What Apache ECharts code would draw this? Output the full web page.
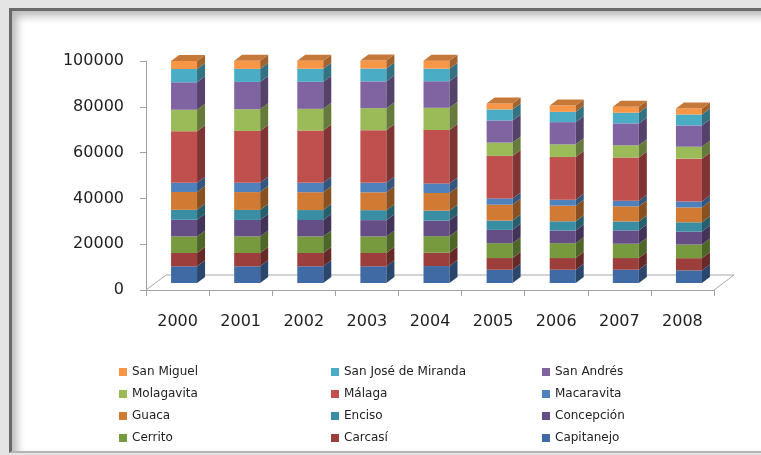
<!DOCTYPE html>
<html>
<head>
<meta charset="utf-8">
<script src="https://cdn.jsdelivr.net/npm/echarts@6/dist/echarts.min.js"></script>
<style>
  html, body { margin: 0; padding: 0; width: 761px; height: 455px; overflow: hidden; background: #e4e4e4; }
  .frame {
    position: absolute; left: 9px; top: 8px; width: 780px; height: 440px;
    background: #fff;
    border-left: 3px solid #6a6a6a; border-top: 3px solid #6a6a6a; border-bottom: 2px solid #b5b5b5;
    box-shadow: inset 5px 5px 9px rgba(0, 0, 0, 0.28);
  }
  #main { position: absolute; left: 0; top: 0; width: 761px; height: 455px; }
</style>
</head>
<body>
<div class="frame"></div>
<div id="main"></div>
<script>
// años
const years = ['2000', '2001', '2002', '2003', '2004', '2005', '2006', '2007', '2008'];

// series de abajo hacia arriba
const names = ['Capitanejo', 'Carcasí', 'Cerrito', 'Concepción', 'Enciso', 'Guaca', 'Macaravita',
  'Málaga', 'Molagavita', 'San Andrés', 'San José de Miranda', 'San Miguel'];

const capitanejo = [7300, 7300, 7300, 7300, 7400, 5800, 5800, 5800, 5500];
const carcasi = [5800, 5800, 5800, 5800, 5800, 5100, 5100, 5100, 5350];
const cerrito = [7250, 7250, 7250, 7250, 7250, 6500, 6500, 6250, 5950];
const concepcion = [7250, 7200, 7150, 7100, 6800, 5800, 5500, 5800, 5650];
const enciso = [4350, 4350, 4350, 4350, 4350, 4050, 4050, 3900, 4050];
const guaca = [7800, 7800, 7800, 7800, 7700, 6950, 6800, 6650, 6500];
const macaravita = [4050, 4100, 4100, 4150, 4200, 2750, 2600, 2450, 2600];
const malaga = [22450, 22600, 22800, 23000, 23300, 18550, 18700, 18850, 18700];
const molagavita = [9400, 9500, 9500, 9600, 9700, 5800, 5500, 5350, 5200];
const sanAndres = [12000, 11900, 11800, 11700, 11600, 9700, 9700, 9550, 9300];
const sanJose = [5800, 5700, 5700, 5600, 5500, 4800, 4500, 4650, 4800];
const sanMiguel = [3500, 3500, 3500, 3500, 3500, 2600, 2750, 2600, 2600];

const values = [capitanejo, carcasi, cerrito, concepcion, enciso, guaca, macaravita,
  malaga, molagavita, sanAndres, sanJose, sanMiguel];

const colors = ['#3f6aa3', '#9c3e3b', '#789a3e', '#654d86', '#3a8ea4', '#d07a33', '#4f81bd',
  '#c0504d', '#9bbb59', '#8064a2', '#4bacc6', '#f79646'];

const yTicks = [0, 20000, 40000, 60000, 80000, 100000];

// geometría 3D (px)
const BAR_W = 26;
const SHIFT_X = 6.5;   // desplazamiento de la cara frontal dentro del piso
const SHIFT_Y = -7;
const DEP_X = 8;       // profundidad de cada columna
const DEP_Y = 6;
const FLOOR_X = 20;    // profundidad del piso
const FLOOR_Y = 15;

function shade(hex, k) {
  const n = parseInt(hex.slice(1), 16);
  const r = Math.round(((n >> 16) & 255) * k);
  const g = Math.round(((n >> 8) & 255) * k);
  const b = Math.round((n & 255) * k);
  return 'rgb(' + r + ',' + g + ',' + b + ')';
}

const chart = echarts.init(document.getElementById('main'), null, { renderer: 'canvas' });

const series = [];

// piso
series.push({
  type: 'custom',
  silent: true,
  z: 1,
  data: [[0]],
  renderItem: function (params, api) {
    const cs = params.coordSys;
    const y0 = api.coord([0, 0])[1];
    const xl = cs.x;
    const xr = cs.x + cs.width;
    const st = { stroke: '#a8a8a8', lineWidth: 1, fill: null };
    return {
      type: 'group',
      children: [
        { type: 'line', shape: { x1: xl, y1: y0, x2: xl + FLOOR_X, y2: y0 - FLOOR_Y }, style: st },
        { type: 'line', shape: { x1: xl + FLOOR_X, y1: y0 - FLOOR_Y, x2: xr + FLOOR_X, y2: y0 - FLOOR_Y }, style: st },
        { type: 'line', shape: { x1: xr + FLOOR_X, y1: y0 - FLOOR_Y, x2: xr, y2: y0 }, style: st }
      ]
    };
  }
});

names.forEach(function (name, si) {
  const data = years.map(function (y, i) {
    let base = 0;
    for (let k = 0; k < si; k++) base += values[k][i];
    return [i, base, base + values[si][i]];
  });
  const col = colors[si];
  const isTop = si === names.length - 1;
  series.push({
    name: name,
    type: 'custom',
    z: 2,
    itemStyle: { color: col },
    data: data,
    renderItem: function (params, api) {
      const pb = api.coord([api.value(0), api.value(1)]);
      const pt = api.coord([api.value(0), api.value(2)]);
      const cx = pb[0] + SHIFT_X;
      const x0 = cx - BAR_W / 2;
      const x1 = cx + BAR_W / 2;
      const yb = pb[1] + SHIFT_Y;
      const yt = pt[1] + SHIFT_Y;
      const children = [
        { type: 'rect', shape: { x: x0, y: yt, width: BAR_W, height: yb - yt }, style: { fill: col } },
        {
          type: 'polygon',
          shape: { points: [[x1, yb], [x1 + DEP_X, yb - DEP_Y], [x1 + DEP_X, yt - DEP_Y], [x1, yt]] },
          style: { fill: shade(col, 0.66) }
        }
      ];
      if (isTop) {
        children.push({
          type: 'polygon',
          shape: { points: [[x0, yt], [x1, yt], [x1 + DEP_X, yt - DEP_Y], [x0 + DEP_X, yt - DEP_Y]] },
          style: { fill: shade(col, 0.8) }
        });
      }
      return { type: 'group', children: children };
    }
  });
});

// leyenda en 3 columnas, de arriba hacia abajo en orden inverso
const rev = names.slice().reverse();
const legendCols = [[], [], []];
rev.forEach(function (n, i) { legendCols[i % 3].push(n); });
const legendLeft = [114, 326, 537];

const legends = legendCols.map(function (list, c) {
  return {
    orient: 'vertical',
    left: legendLeft[c],
    top: 361,
    data: list,
    icon: 'rect',
    itemWidth: 8,
    itemHeight: 8,
    itemGap: 10,
    itemStyle: { borderWidth: 0 },
    selectedMode: false,
    textStyle: { fontFamily: 'DejaVu Sans', fontSize: 12, color: '#222' }
  };
});

const option = {
  animation: false,
  backgroundColor: 'transparent',
  grid: { left: 146, right: 47, top: 61, bottom: 165 },
  legend: legends,
  xAxis: {
    type: 'category',
    data: years,
    boundaryGap: true,
    axisLine: { lineStyle: { color: '#a0a0a0', width: 1 } },
    axisTick: { show: true, length: 6, lineStyle: { color: '#a0a0a0' } },
    axisLabel: { margin: 24, color: '#1f1f1f', fontSize: 16, fontFamily: 'DejaVu Sans' },
    splitLine: { show: false }
  },
  yAxis: {
    type: 'value',
    min: yTicks[0],
    max: yTicks[yTicks.length - 1],
    interval: yTicks[1] - yTicks[0],
    axisLine: { show: true, lineStyle: { color: '#a0a0a0', width: 1 } },
    axisTick: { show: true, length: 6, lineStyle: { color: '#a0a0a0' } },
    axisLabel: {
      margin: 22, color: '#1f1f1f', fontSize: 16, fontFamily: 'DejaVu Sans',
      formatter: function (v) { return String(v); }
    },
    splitLine: { show: false }
  },
  series: series
};

chart.setOption(option);
</script>
</body>
</html>
